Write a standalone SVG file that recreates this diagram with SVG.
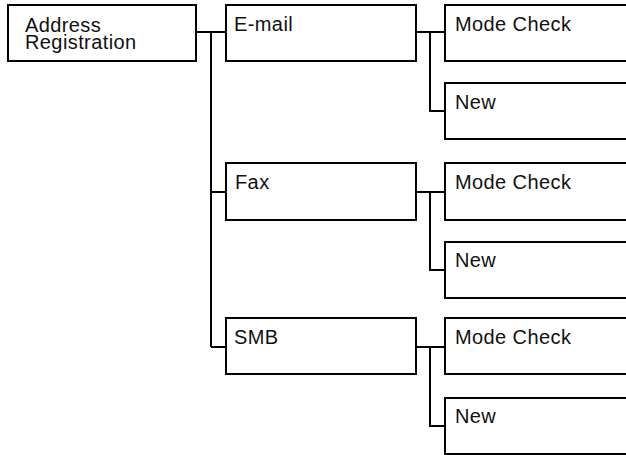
<svg xmlns="http://www.w3.org/2000/svg" width="626" height="455" viewBox="0 0 626 455">
<style>
.box{fill:#fff;stroke:#000;stroke-width:2}
.t{font-family:"Liberation Sans",Arial,sans-serif;font-size:20px;letter-spacing:0.4px;fill:#111}
.c{fill:none;stroke:#000;stroke-width:2}
</style>
<rect width="626" height="455" fill="#fff"/>
<g id="connectors">
<path class="c" d="M196 32H226M211 32V347M211 192H226M211 347H226"/>
<path class="c" d="M416 32H445M430 32V111H445"/>
<path class="c" d="M416 192H445M430 192V270H445"/>
<path class="c" d="M416 347H445M430 347V426H445"/>
</g>
<g id="address"><rect class="box" x="8" y="5" width="188" height="56"/><text class="t" x="25" y="31.5">Address</text><text class="t" x="25" y="48.5">Registration</text></g>
<g id="email"><rect class="box" x="226" y="5" width="190" height="56"/><text class="t" x="234" y="31">E-mail</text></g>
<g id="email-mode"><rect class="box" x="445" y="5" width="200" height="56"/><text class="t" x="455" y="31">Mode Check</text></g>
<g id="email-new"><rect class="box" x="445" y="83" width="200" height="56"/><text class="t" x="455" y="109">New</text></g>
<g id="fax"><rect class="box" x="226" y="163" width="190" height="57"/><text class="t" x="235" y="188.5">Fax</text></g>
<g id="fax-mode"><rect class="box" x="445" y="163" width="200" height="57"/><text class="t" x="455" y="188.5">Mode Check</text></g>
<g id="fax-new"><rect class="box" x="445" y="242" width="200" height="56"/><text class="t" x="455" y="267">New</text></g>
<g id="smb"><rect class="box" x="226" y="318" width="190" height="56"/><text class="t" x="234" y="344">SMB</text></g>
<g id="smb-mode"><rect class="box" x="445" y="318" width="200" height="56"/><text class="t" x="455" y="344">Mode Check</text></g>
<g id="smb-new"><rect class="box" x="445" y="398" width="200" height="56"/><text class="t" x="455" y="423">New</text></g>
</svg>
